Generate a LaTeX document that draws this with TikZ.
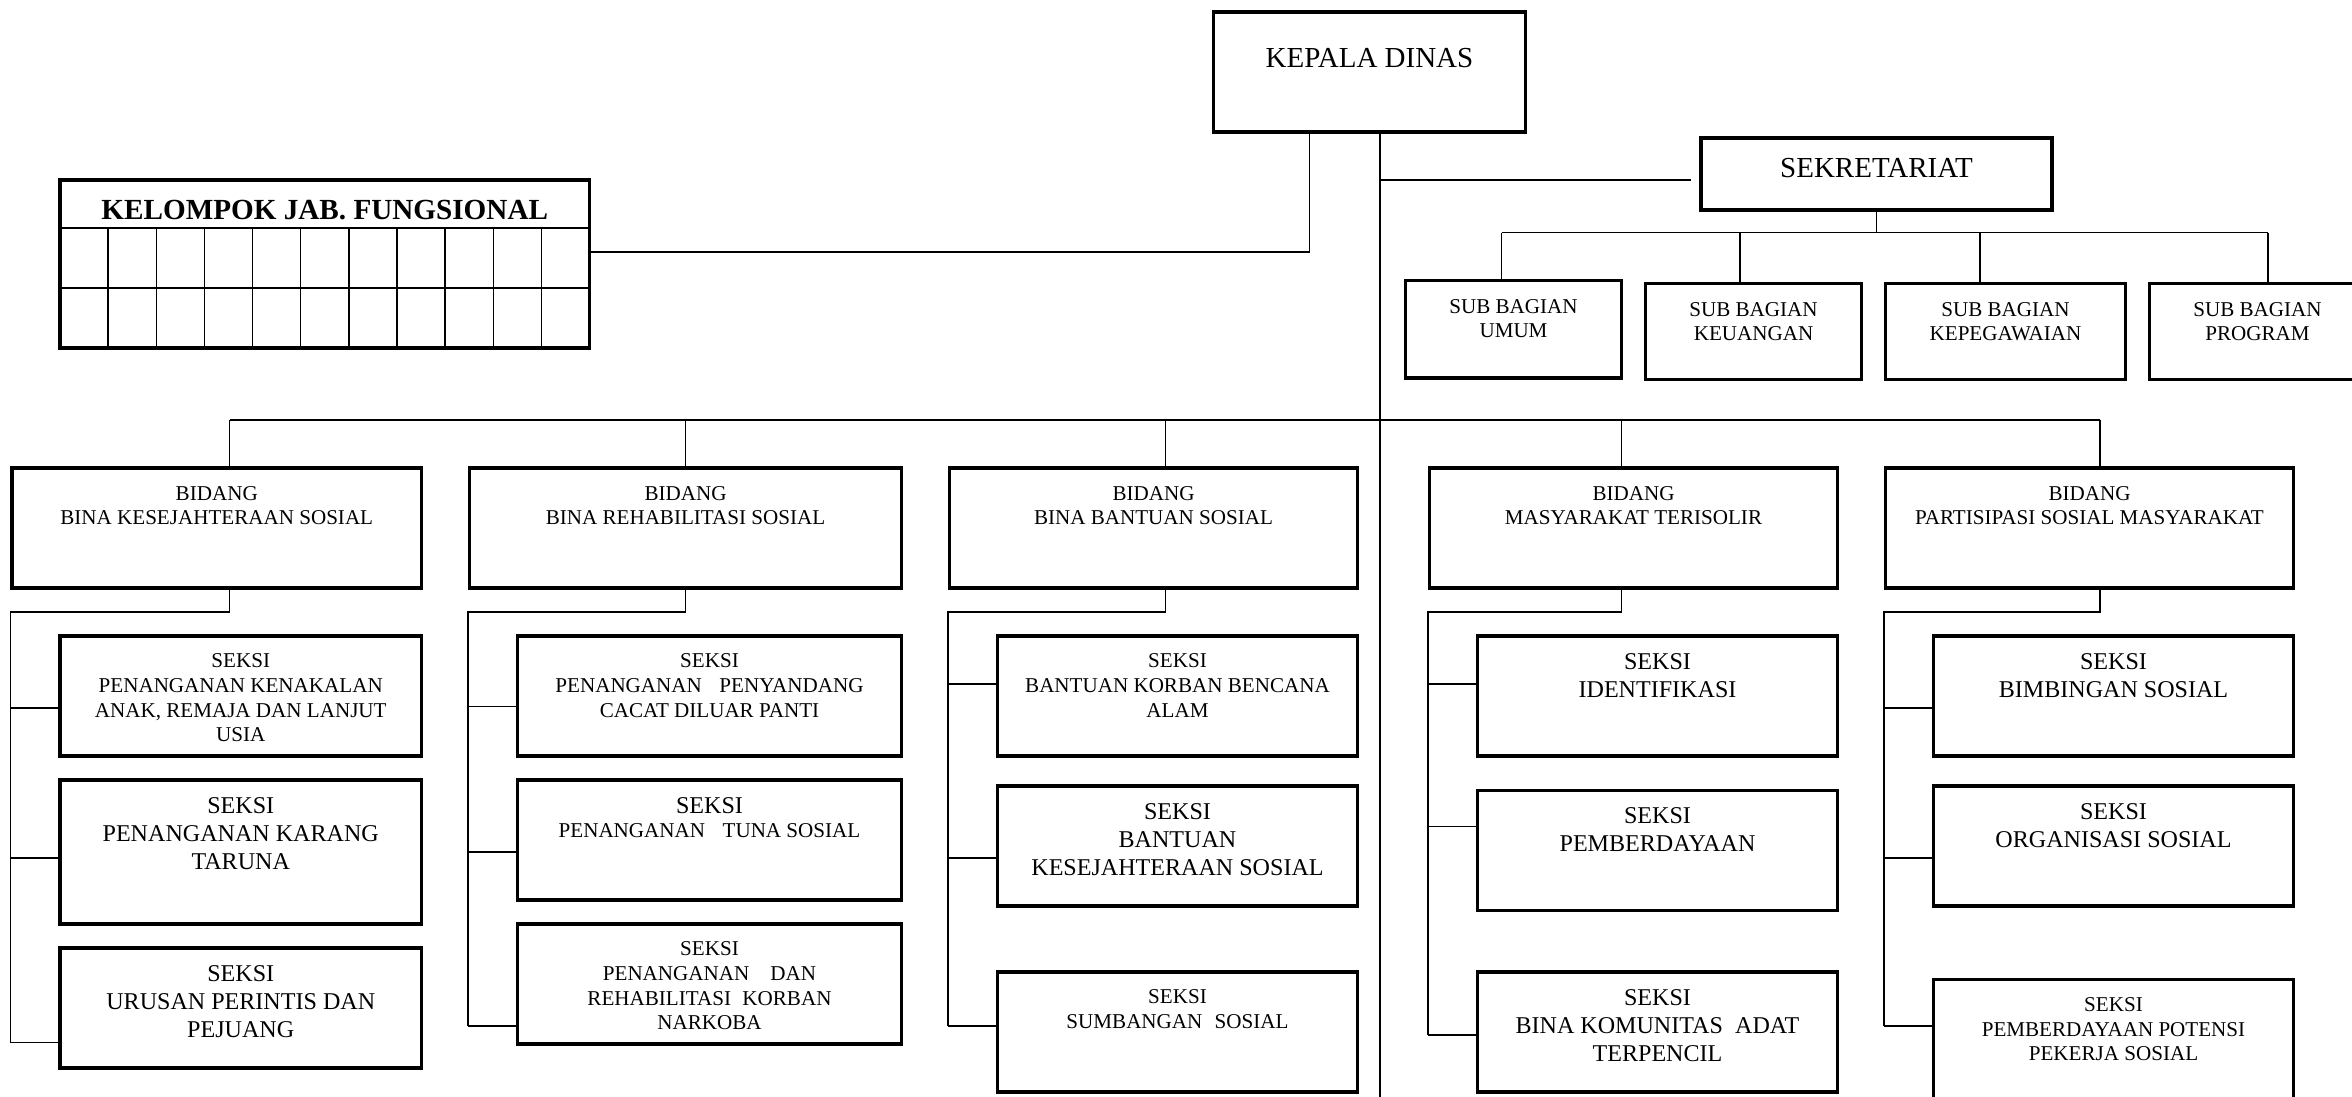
\documentclass[tikz,border=0pt]{standalone}
\usepackage{fontspec}
\setmainfont{Liberation Serif}

\tikzset{
  kotak/.style 2 args={draw, line width=1.8pt, minimum width=#1*0.03cm, minimum height=#2*0.03cm, inner sep=0pt},
  garis/.style={line width=0.8pt},
  isi/.style={align=center, inner sep=0pt, anchor=north, font=\fontsize{12}{14}\selectfont},
  isibesar/.style={isi, font=\fontsize{13.7}{16}\selectfont},
  kepala/.style={isi, font=\fontsize{16.5}{19}\selectfont},
}

\begin{document}
\begin{tikzpicture}[x=0.03cm, y=-0.03cm]
  \useasboundingbox (0,0) rectangle (1568,731);

  % pimpinan, kelompok fungsional, sekretariat
  \node[kotak={208}{80}]  (kd)  at (913,48)    {};
  \node[kotak={353}{112}] (kjf) at (216.5,176) {};
  \node[kotak={234}{48}]  (sek) at (1251,116)  {};
  \node[kotak={144}{65}]  (sb1) at (1009,219.5) {};
  \node[kotak={144}{64}]  (sb2) at (1169,221)  {};
  \node[kotak={160}{64}]  (sb3) at (1337,221)  {};
  \node[kotak={144}{64}]  (sb4) at (1505,221)  {};

  \node[kepala] (kd-t)  at ([yshift=-21.5pt]kd.north) {KEPALA DINAS};
  \node[kepala] (sek-t) at ([yshift=-12pt]sek.north)  {SEKRETARIAT};
  \node[kepala, anchor=base, font=\fontsize{16.6}{19}\selectfont\bfseries] (kjf-t) at (216.5,146) {KELOMPOK JAB. FUNGSIONAL};
  \node[isi] (sb1-t) at ([yshift=-11.3pt]sb1.north) {SUB BAGIAN\\UMUM};
  \node[isi] (sb2-t) at ([yshift=-11.3pt]sb2.north) {SUB BAGIAN\\KEUANGAN};
  \node[isi] (sb3-t) at ([yshift=-11.3pt]sb3.north) {SUB BAGIAN\\KEPEGAWAIAN};
  \node[isi] (sb4-t) at ([yshift=-11.3pt]sb4.north) {SUB BAGIAN\\PROGRAM};

  % kotak-kotak jabatan fungsional
  \draw[garis] (kjf.west |- 0,152) -- (kjf.east |- 0,152);
  \draw[garis] (kjf.west |- 0,192) -- (kjf.east |- 0,192);
  \foreach \i in {1,...,10}
    \draw[garis] (40+\i*32.09,152) -- (40+\i*32.09,232);

  % bidang
  \node[kotak={273}{80}] (b1) at (144.5,352) {};
  \node[kotak={288}{80}] (b2) at (457,352)   {};
  \node[kotak={272}{80}] (b3) at (769,352)   {};
  \node[kotak={272}{80}] (b4) at (1089,352)  {};
  \node[kotak={272}{80}] (b5) at (1393,352)  {};

  \node[isi] (b1-t) at ([yshift=-11.1pt]b1.north) {BIDANG\\BINA KESEJAHTERAAN SOSIAL};
  \node[isi] (b2-t) at ([yshift=-11.1pt]b2.north) {BIDANG\\BINA REHABILITASI SOSIAL};
  \node[isi] (b3-t) at ([yshift=-11.1pt]b3.north) {BIDANG\\BINA BANTUAN SOSIAL};
  \node[isi] (b4-t) at ([yshift=-11.1pt]b4.north) {BIDANG\\MASYARAKAT TERISOLIR};
  \node[isi] (b5-t) at ([yshift=-11.1pt]b5.north) {BIDANG\\PARTISIPASI SOSIAL MASYARAKAT};

  % seksi
  \node[kotak={241}{80}] (s11) at (160.5,464) {};
  \node[kotak={241}{96}] (s12) at (160.5,568) {};
  \node[kotak={241}{80}] (s13) at (160.5,672) {};
  \node[kotak={256}{80}] (s21) at (473,464)   {};
  \node[kotak={256}{80}] (s22) at (473,560)   {};
  \node[kotak={256}{80}] (s23) at (473,656)   {};
  \node[kotak={240}{80}] (s31) at (785,464)   {};
  \node[kotak={240}{80}] (s32) at (785,564)   {};
  \node[kotak={240}{80}] (s33) at (785,688)   {};
  \node[kotak={240}{80}] (s41) at (1105,464)  {};
  \node[kotak={240}{80}] (s42) at (1105,567)  {};
  \node[kotak={240}{80}] (s43) at (1105,688)  {};
  \node[kotak={240}{80}] (s51) at (1409,464)  {};
  \node[kotak={240}{80}] (s52) at (1409,564)  {};
  \node[kotak={240}{80}] (s53) at (1409,693)  {};

  \node[isi]      (s11-t) at ([yshift=-10.9pt]s11.north) {SEKSI\\PENANGANAN KENAKALAN\\ANAK, REMAJA DAN LANJUT\\USIA};
  \node[isibesar] (s12-t) at ([yshift=-10.5pt]s12.north) {SEKSI\\PENANGANAN KARANG\\TARUNA};
  \node[isibesar] (s13-t) at ([yshift=-10.5pt]s13.north) {SEKSI\\URUSAN PERINTIS DAN\\PEJUANG};
  \node[isi]      (s21-t) at ([yshift=-10.9pt]s21.north) {SEKSI\\PENANGANAN\hspace{10pt}PENYANDANG\\CACAT DILUAR PANTI};
  \node[isi]      (s22-t) at ([yshift=-10.5pt]s22.north) {\fontsize{13.7}{16}\selectfont SEKSI\\\fontsize{12}{14}\selectfont PENANGANAN\hspace{10pt}TUNA SOSIAL};
  \node[isi]      (s23-t) at ([yshift=-10.9pt]s23.north) {SEKSI\\PENANGANAN\hspace{12pt}DAN\\REHABILITASI\hspace{6.5pt}KORBAN\\NARKOBA};
  \node[isi]      (s31-t) at ([yshift=-10.9pt]s31.north) {SEKSI\\BANTUAN KORBAN BENCANA\\ALAM};
  \node[isibesar] (s32-t) at ([yshift=-10.5pt]s32.north) {SEKSI\\BANTUAN\\KESEJAHTERAAN SOSIAL};
  \node[isi]      (s33-t) at ([yshift=-10.9pt]s33.north) {SEKSI\\SUMBANGAN\hspace{7pt}SOSIAL};
  \node[isibesar] (s41-t) at ([yshift=-10.5pt]s41.north) {SEKSI\\IDENTIFIKASI};
  \node[isibesar] (s42-t) at ([yshift=-10.5pt]s42.north) {SEKSI\\PEMBERDAYAAN};
  \node[isibesar] (s43-t) at ([yshift=-10.5pt]s43.north) {SEKSI\\BINA KOMUNITAS\hspace{7pt}ADAT\\TERPENCIL};
  \node[isibesar] (s51-t) at ([yshift=-10.5pt]s51.north) {SEKSI\\BIMBINGAN SOSIAL};
  \node[isibesar] (s52-t) at ([yshift=-10.5pt]s52.north) {SEKSI\\ORGANISASI SOSIAL};
  \node[isi]      (s53-t) at ([yshift=-10.9pt]s53.north) {SEKSI\\PEMBERDAYAAN POTENSI\\PEKERJA SOSIAL};

  % garis komando
  \coordinate (trunk) at (920,731);
  \coordinate (kj) at (873,168);
  \coordinate (ks) at (920,120);
  \draw[garis] (trunk |- kd.south) -- (trunk);
  \draw[garis] (kj |- kd.south) |- (kjf.east |- kj);
  \draw[garis, shorten >=5pt] (ks) -- (sek.west |- ks);

  % sekretariat ke sub bagian
  \coordinate (u1) at (1001,155);
  \coordinate (u2) at (1160,155);
  \coordinate (u3) at (1320,155);
  \coordinate (u4) at (1512,155);
  \draw[garis] (sek.south) -- (sek.south |- u1);
  \draw[garis] (u1) -- (u4);
  \foreach \i in {1,...,4}
    \draw[garis] (u\i) -- (u\i |- sb\i.north);

  % ke bidang
  \coordinate (d1) at (153,280);
  \coordinate (d2) at (457,280);
  \coordinate (d3) at (777,280);
  \coordinate (d4) at (1081,280);
  \coordinate (d5) at (1400,280);
  \draw[garis] (d1) -- (d5);
  \foreach \i in {1,...,5}
    \draw[garis] (d\i) -- (d\i |- b\i.north);

  % bidang ke seksi
  \foreach \i/\y in {1/695, 2/684, 3/684, 4/690, 5/684}
    \draw[garis] (d\i |- b\i.south) |- (b\i.west |- 0,408) -- (b\i.west |- 0,\y);
  \foreach \i/\j/\y in {1/1/472, 1/2/572, 1/3/695, 2/1/471, 2/2/568, 2/3/684,
                        3/1/456, 3/2/572, 3/3/684, 4/1/456, 4/2/551, 4/3/690,
                        5/1/472, 5/2/572, 5/3/684}
    \draw[garis] (b\i.west |- 0,\y) -- (s\i\j.west |- 0,\y);
\end{tikzpicture}
\end{document}
